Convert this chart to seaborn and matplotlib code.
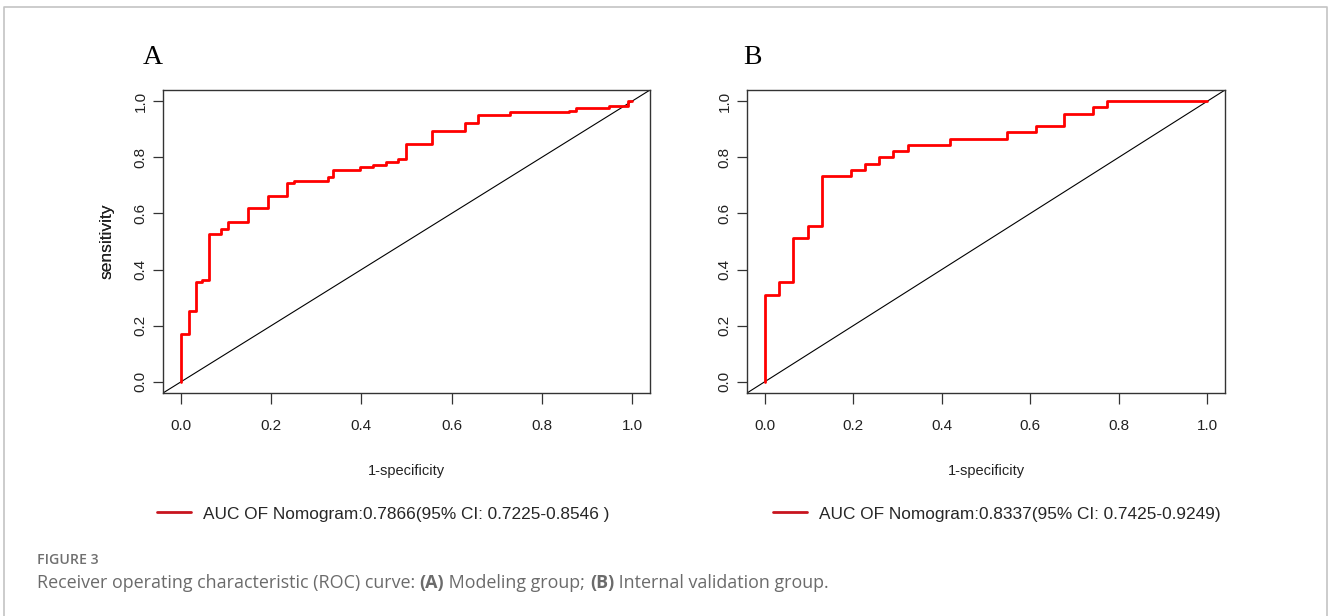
import matplotlib
matplotlib.use("Agg")
import matplotlib.pyplot as plt
import seaborn as sns
import pandas as pd
from matplotlib import font_manager
from matplotlib.lines import Line2D

# ---------------- data ----------------
fpr_a = [0.0, 0.0, 0.018, 0.033, 0.047, 0.061, 0.089, 0.105, 0.149, 0.192, 0.235,
         0.251, 0.325, 0.338, 0.396, 0.426, 0.455, 0.482, 0.498, 0.556, 0.630,
         0.658, 0.729, 0.861, 0.877, 0.948, 0.992, 1.0]
tpr_a = [0.0, 0.170, 0.254, 0.355, 0.363, 0.525, 0.543, 0.570, 0.620, 0.663, 0.707,
         0.717, 0.729, 0.755, 0.766, 0.774, 0.783, 0.795, 0.849, 0.893, 0.923,
         0.951, 0.960, 0.965, 0.976, 0.983, 1.0, 1.0]

fpr_b = [0.0, 0.0, 0.032, 0.065, 0.097, 0.129, 0.194, 0.226, 0.258, 0.290, 0.323,
         0.419, 0.548, 0.613, 0.677, 0.742, 0.774, 1.0]
tpr_b = [0.0, 0.311, 0.356, 0.511, 0.556, 0.733, 0.756, 0.778, 0.800, 0.822, 0.844,
         0.867, 0.889, 0.911, 0.956, 0.978, 1.0, 1.0]

panel_letters = ["A", "B"]
legend_labels = ["AUC OF Nomogram:0.7866(95% CI: 0.7225-0.8546 )",
                 "AUC OF Nomogram:0.8337(95% CI: 0.7425-0.9249)"]
tick_values = [0.0, 0.2, 0.4, 0.6, 0.8, 1.0]
tick_labels = ["0.0", "0.2", "0.4", "0.6", "0.8", "1.0"]
x_label = "1-specificity"
y_label = "sensitivity"
caption_head = "FIGURE 3"
caption_parts = [("Receiver operating characteristic (ROC) curve: ", "normal"),
                 ("(A)", "bold"), (" Modeling group; ", "normal"),
                 ("(B)", "bold"), (" Internal validation group.", "normal")]

# ---------------- style ----------------
sns.set_theme(style="white")
names = {f.name for f in font_manager.fontManager.ttflist}
sans = "Liberation Sans" if "Liberation Sans" in names else "DejaVu Sans"
narrow = "Liberation Sans Narrow" if "Liberation Sans Narrow" in names else sans
serif = "Liberation Serif" if "Liberation Serif" in names else "DejaVu Serif"
cap_font = "Open Sans" if "Open Sans" in names else "Noto Sans"
plt.rcParams["font.family"] = [sans, "DejaVu Sans"]

W, H = 1328, 616
fig = plt.figure(figsize=(W / 100, H / 100), dpi=100)
fig.patch.set_facecolor("white")


def px_axes(left, top, right, bottom):
    return fig.add_axes([left / W, 1 - bottom / H, (right - left) / W, (bottom - top) / H])


boxes = [(163, 90, 650, 393), (747, 90, 1225, 393)]
letter_pos = [(153, 57), (752, 57)]
legend_pos = [(157, 514), (773, 514)]
series = [(fpr_a, tpr_a), (fpr_b, tpr_b)]

for i, (box, (fx, ty)) in enumerate(zip(boxes, series)):
    ax = px_axes(*box)
    df = pd.DataFrame({"fpr": fx, "tpr": ty})
    sns.lineplot(data=df, x="fpr", y="tpr", ax=ax, sort=False, estimator=None,
                 drawstyle="steps-post", color="#ff0000", linewidth=2.0, zorder=3)
    ax.axline((0, 0), (1, 1), color="black", linewidth=0.8, zorder=2)
    ax.set_xlim(-0.04, 1.04)
    ax.set_ylim(-0.04, 1.04)
    ax.set_xticks(tick_values)
    ax.set_xticklabels(tick_labels, fontfamily=narrow, fontsize=11)
    ax.set_yticks(tick_values)
    ax.set_yticklabels(tick_labels, fontsize=11, rotation=90, va="center")
    ax.tick_params(axis="x", direction="out", length=8, width=0.9, color="#333333",
                   pad=11, labelcolor="#222222", bottom=True)
    ax.tick_params(axis="y", direction="out", length=7, width=0.9, color="#333333",
                   pad=4, labelcolor="#222222", left=True)
    for sp in ax.spines.values():
        sp.set_visible(True)
        sp.set_color("#333333")
        sp.set_linewidth(1.0)
    ax.set_xlabel("")
    ax.set_ylabel("")
    ax.grid(False)
    l, t, r, b = box
    fig.text(107 / W, 1 - 241 / H, y_label, rotation=90, ha="center", va="center",
             fontsize=12.5, color="#222222")
    fig.text(((l + r) / 2) / W, 1 - 471 / H, x_label, ha="center", va="center",
             fontsize=10.5, fontfamily=narrow, color="#222222")
    fig.text(letter_pos[i][0] / W, 1 - letter_pos[i][1] / H, panel_letters[i],
             ha="center", va="center", fontsize=20, fontfamily=serif, color="black")
    handle = Line2D([], [], color="#c8141e", linewidth=2.0)
    lx, ly = legend_pos[i]
    fig.legend([handle], [legend_labels[i]], loc="center left",
               bbox_to_anchor=(lx / W, 1 - ly / H), frameon=False,
               handlelength=1.95, handletextpad=0.7, borderaxespad=0, borderpad=0,
               prop={"family": narrow, "size": 12.4})

# outer frame (open at bottom)
frame = Line2D([4 / W, 4 / W, 1327 / W, 1327 / W],
               [0, 1 - 7 / H, 1 - 7 / H, 0],
               transform=fig.transFigure, color="#c4c4c4", linewidth=1.2)
fig.add_artist(frame)

# caption
fig.text(37 / W, 1 - 560 / H, caption_head, fontsize=10.2, fontfamily=cap_font,
         fontweight="semibold", color="#707070", va="center", ha="left")
fig.canvas.draw()
renderer = fig.canvas.get_renderer()
x = 37
for txt, wt in caption_parts:
    t = fig.text(x / W, 1 - 583 / H, txt, fontsize=12.9, fontfamily=cap_font,
                 fontweight=wt, color="#6b6b6b", va="center", ha="left")
    bb = t.get_window_extent(renderer=renderer)
    x += bb.width

fig.savefig("out.png", dpi=100, facecolor="white")
